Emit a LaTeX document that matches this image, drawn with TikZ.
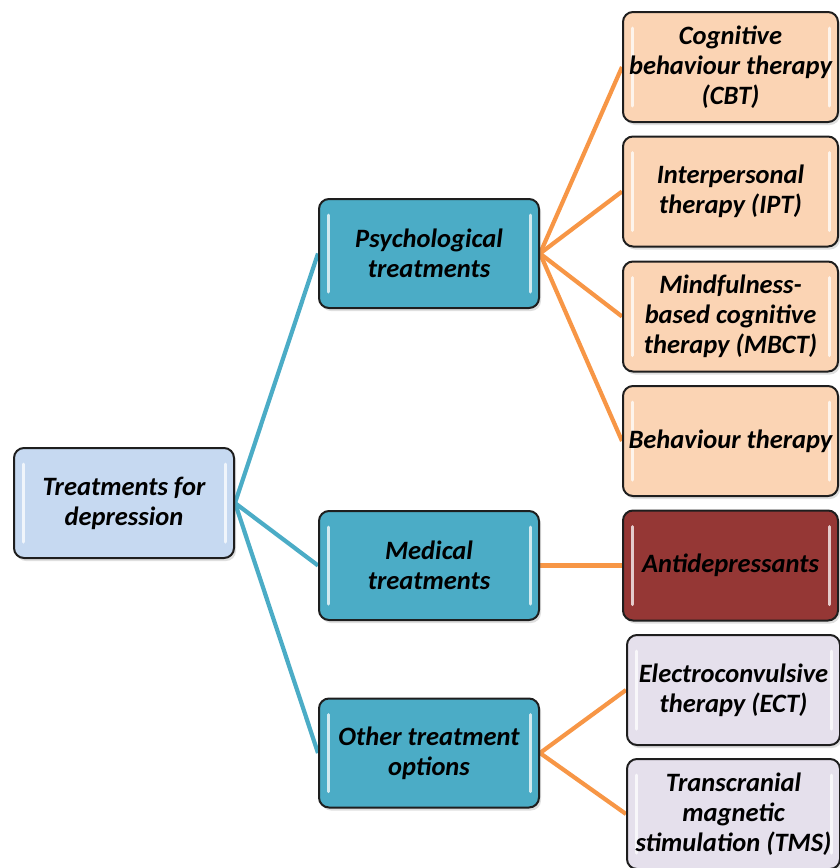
\documentclass[tikz,border=0pt]{standalone}
\usepackage{fontspec}
\setmainfont{Carlito}
\usetikzlibrary{shadows,backgrounds}
\definecolor{rootfill}{HTML}{C6D9F1}
\definecolor{midfill}{HTML}{4BACC6}
\definecolor{peach}{HTML}{FBD4B4}
\definecolor{maroon}{HTML}{953735}
\definecolor{lav}{HTML}{E5E0EC}
\definecolor{blueline}{HTML}{4BACC6}
\definecolor{orangeline}{HTML}{F79646}
\definecolor{edge}{HTML}{1E1E1E}
\tikzset{
  gloss/.style={draw=white, line width=3pt, line cap=round, opacity=0.75},
  box/.style={draw=edge, line width=2pt, rounded corners=10pt, inner sep=0pt,
    align=center, font=\fontsize{26.5}{30}\selectfont\bfseries\itshape,
    drop shadow={opacity=0.25, shadow xshift=2pt, shadow yshift=-3pt},
    path picture={
      \draw[gloss] ([xshift=9pt,yshift=-16pt]path picture bounding box.north west) -- ([xshift=9pt,yshift=16pt]path picture bounding box.south west);
      \draw[gloss] ([xshift=-9pt,yshift=-16pt]path picture bounding box.north east) -- ([xshift=-9pt,yshift=16pt]path picture bounding box.south east);
    }},
  rootbox/.style={box, fill=rootfill, minimum width=220pt, minimum height=110pt},
  midbox/.style={box, fill=midfill, minimum width=220pt, minimum height=109pt},
  leafbox/.style={box, minimum width=215pt, minimum height=110pt},
  blink/.style={draw=blueline, line width=4.2pt},
  olink/.style={draw=orangeline, line width=4.2pt}
}
\begin{document}
\begin{tikzpicture}[x=1pt,y=-1pt]
\useasboundingbox (0,0) rectangle (839,868);
\node[rootbox] (root) at (124,503) {Treatments for\\depression};
\node[midbox] (psy) at (429,253.5) {Psychological\\treatments};
\node[midbox] (med) at (429,565.5) {Medical\\treatments};
\node[midbox] (oth) at (429,753) {Other treatment\\options};
\node[leafbox, fill=peach] (cbt) at (730.5,67) {Cognitive\\behaviour therapy\\(CBT)};
\node[leafbox, fill=peach] (ipt) at (730.5,191.5) {Interpersonal\\therapy (IPT)};
\node[leafbox, fill=peach] (mbct) at (730.5,316.5) {Mindfulness-\\based cognitive\\therapy (MBCT)};
\node[leafbox, fill=peach] (bt) at (730.5,441) {Behaviour therapy};
\node[leafbox, fill=maroon] (anti) at (730.5,565.5) {Antidepressants};
\node[leafbox, fill=lav, minimum width=213pt] (ect) at (733.5,690) {Electroconvulsive\\therapy (ECT)};
\node[leafbox, fill=lav, minimum width=213pt] (tms) at (733.5,814) {Transcranial\\magnetic\\stimulation (TMS)};
\begin{scope}[on background layer]
\draw[blink] (root.east) -- (psy.west);
\draw[blink] (root.east) -- (med.west);
\draw[blink] (root.east) -- (oth.west);
\draw[olink] (psy.east) -- (cbt.west);
\draw[olink] (psy.east) -- (ipt.west);
\draw[olink] (psy.east) -- (mbct.west);
\draw[olink] (psy.east) -- (bt.west);
\draw[olink] (med.east) -- (anti.west);
\draw[olink] (oth.east) -- (ect.west);
\draw[olink] (oth.east) -- (tms.west);
\end{scope}
\end{tikzpicture}
\end{document}
